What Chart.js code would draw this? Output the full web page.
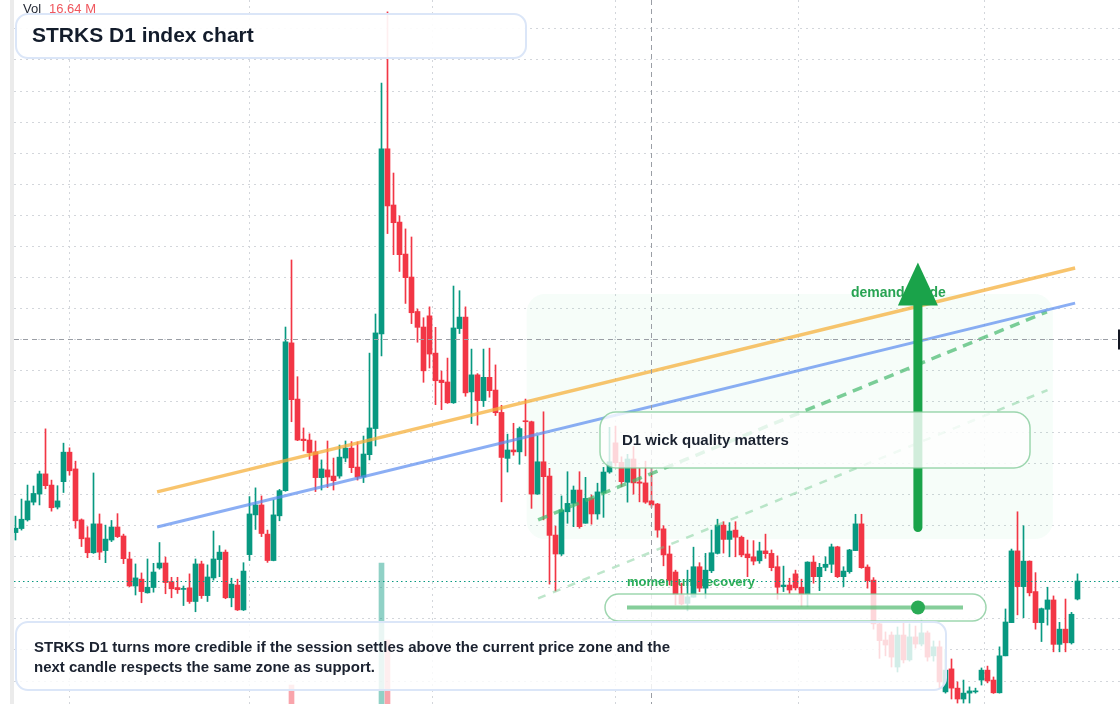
<!DOCTYPE html>
<html>
<head>
<meta charset="utf-8">
<title>STRKS D1 index chart</title>
<script src="https://cdn.jsdelivr.net/npm/chart.js@4.4.1/dist/chart.umd.min.js"></script>
<style>
  html, body { margin: 0; padding: 0; background: #ffffff; }
  .chart-container { position: relative; width: 1120px; height: 704px; }
</style>
</head>
<body>
<div class="chart-container"><canvas id="myChart"></canvas></div>
<script>
// daily candles, one per session (index = session number)
const opens = [
  2.478, 2.491, 2.519, 2.576, 2.602, 2.667, 2.631, 2.560, 2.642, 2.737,
  2.683, 2.519, 2.461, 2.413, 2.506, 2.420, 2.454, 2.496, 2.467, 2.393,
  2.306, 2.328, 2.284, 2.301, 2.364, 2.380, 2.320, 2.301, 2.295, 2.300,
  2.256, 2.377, 2.275, 2.332, 2.391, 2.415, 2.268, 2.309, 2.229, 2.407,
  2.535, 2.567, 2.473, 2.388, 2.532, 2.613, 3.089, 2.908, 2.779, 2.776,
  2.738, 2.655, 2.680, 2.660, 2.660, 2.718, 2.750, 2.689, 2.657, 2.729,
  2.813, 3.118, 3.714, 3.533, 3.478, 3.375, 3.301, 3.190, 3.140, 3.176,
  3.056, 2.969, 2.963, 2.896, 3.135, 3.172, 2.931, 2.986, 2.903, 2.978,
  2.937, 2.865, 2.717, 2.744, 2.738, 2.838, 2.835, 2.602, 2.706, 2.660,
  2.470, 2.409, 2.545, 2.572, 2.615, 2.508, 2.588, 2.538, 2.606, 2.673,
  2.767, 2.704, 2.640, 2.715, 2.641, 2.638, 2.580, 2.570, 2.490, 2.409,
  2.351, 2.277, 2.250, 2.270, 2.368, 2.299, 2.355, 2.411, 2.502, 2.456,
  2.486, 2.463, 2.409, 2.400, 2.387, 2.419, 2.411, 2.368, 2.304, 2.309,
  2.345, 2.302, 2.280, 2.383, 2.336, 2.366, 2.376, 2.432, 2.336, 2.352,
  2.420, 2.506, 2.367, 2.325, 2.184, 2.132, 2.148, 2.045, 2.148, 2.068,
  2.142, 2.119, 2.155, 2.081, 2.110, 1.965, 2.039, 1.977, 1.942, 1.961,
  1.965, 2.003, 2.035, 2.003, 1.962, 2.081, 2.188, 2.419, 2.304, 2.386,
  2.288, 2.188, 2.231, 2.261, 2.118, 2.167, 2.123, 2.264
];
const highs = [
  2.531, 2.586, 2.631, 2.628, 2.676, 2.812, 2.647, 2.629, 2.766, 2.751,
  2.708, 2.522, 2.497, 2.670, 2.538, 2.502, 2.517, 2.539, 2.473, 2.415,
  2.377, 2.348, 2.393, 2.379, 2.446, 2.399, 2.334, 2.334, 2.306, 2.345,
  2.393, 2.386, 2.374, 2.483, 2.436, 2.422, 2.331, 2.328, 2.381, 2.594,
  2.622, 2.596, 2.486, 2.583, 2.617, 3.140, 3.356, 2.980, 2.815, 2.796,
  2.773, 2.712, 2.773, 2.718, 2.760, 2.773, 2.771, 2.770, 2.789, 3.056,
  3.182, 3.926, 4.155, 3.636, 3.498, 3.456, 3.430, 3.198, 3.170, 3.205,
  3.139, 2.998, 3.040, 3.272, 3.257, 3.205, 3.069, 2.990, 3.069, 3.072,
  3.018, 2.888, 2.795, 2.830, 2.818, 2.908, 2.837, 2.790, 2.867, 2.685,
  2.499, 2.596, 2.674, 2.628, 2.674, 2.656, 2.599, 2.637, 2.688, 2.817,
  2.821, 2.722, 2.730, 2.755, 2.685, 2.708, 2.685, 2.572, 2.500, 2.435,
  2.357, 2.315, 2.357, 2.431, 2.381, 2.411, 2.486, 2.521, 2.513, 2.510,
  2.513, 2.467, 2.454, 2.452, 2.447, 2.473, 2.422, 2.403, 2.370, 2.331,
  2.357, 2.328, 2.384, 2.403, 2.379, 2.400, 2.441, 2.434, 2.368, 2.424,
  2.537, 2.537, 2.374, 2.333, 2.187, 2.158, 2.158, 2.174, 2.187, 2.184,
  2.177, 2.196, 2.161, 2.129, 2.129, 2.100, 2.071, 1.997, 2.003, 1.981,
  1.977, 2.042, 2.048, 2.013, 2.110, 2.232, 2.425, 2.545, 2.500, 2.387,
  2.349, 2.235, 2.302, 2.274, 2.189, 2.264, 2.221, 2.345
];
const lows = [
  2.454, 2.486, 2.515, 2.567, 2.567, 2.619, 2.547, 2.554, 2.607, 2.663,
  2.492, 2.433, 2.397, 2.411, 2.391, 2.381, 2.449, 2.462, 2.378, 2.304,
  2.277, 2.252, 2.283, 2.286, 2.360, 2.281, 2.268, 2.282, 2.243, 2.250,
  2.223, 2.266, 2.256, 2.325, 2.336, 2.265, 2.239, 2.227, 2.227, 2.388,
  2.488, 2.465, 2.382, 2.387, 2.516, 2.611, 2.835, 2.774, 2.741, 2.714,
  2.610, 2.615, 2.623, 2.615, 2.653, 2.706, 2.671, 2.647, 2.639, 2.712,
  2.757, 3.047, 3.441, 3.373, 3.319, 3.216, 3.151, 3.091, 2.962, 3.008,
  2.890, 2.874, 2.894, 2.894, 3.119, 2.917, 2.829, 2.824, 2.884, 2.914,
  2.855, 2.577, 2.673, 2.727, 2.698, 2.725, 2.556, 2.601, 2.519, 2.312,
  2.290, 2.404, 2.508, 2.497, 2.492, 2.508, 2.505, 2.521, 2.527, 2.669,
  2.692, 2.626, 2.576, 2.602, 2.577, 2.572, 2.559, 2.463, 2.371, 2.309,
  2.245, 2.245, 2.226, 2.270, 2.288, 2.266, 2.349, 2.409, 2.412, 2.400,
  2.400, 2.400, 2.336, 2.374, 2.379, 2.395, 2.355, 2.263, 2.288, 2.282,
  2.293, 2.239, 2.239, 2.315, 2.291, 2.355, 2.349, 2.333, 2.304, 2.347,
  2.420, 2.363, 2.299, 2.167, 2.073, 2.081, 2.045, 2.029, 2.058, 2.064,
  2.106, 2.113, 2.064, 2.064, 1.977, 1.961, 1.942, 1.929, 1.929, 1.929,
  1.961, 1.987, 1.994, 1.960, 1.961, 2.081, 2.188, 2.213, 2.204, 2.274,
  2.167, 2.127, 2.180, 2.094, 2.094, 2.094, 2.119, 2.261
];
const closes = [
  2.492, 2.521, 2.580, 2.604, 2.667, 2.629, 2.558, 2.580, 2.737, 2.677,
  2.516, 2.458, 2.413, 2.506, 2.415, 2.457, 2.496, 2.465, 2.394, 2.306,
  2.332, 2.288, 2.302, 2.351, 2.380, 2.317, 2.297, 2.294, 2.297, 2.256,
  2.377, 2.275, 2.335, 2.393, 2.415, 2.268, 2.312, 2.229, 2.354, 2.538,
  2.567, 2.475, 2.388, 2.535, 2.613, 3.092, 2.906, 2.776, 2.774, 2.735,
  2.655, 2.683, 2.657, 2.645, 2.721, 2.750, 2.687, 2.657, 2.731, 2.815,
  3.121, 3.714, 3.530, 3.476, 3.373, 3.299, 3.186, 3.139, 2.999, 3.053,
  2.967, 2.961, 2.896, 3.137, 3.172, 2.928, 2.986, 2.903, 2.978, 2.935,
  2.864, 2.720, 2.744, 2.738, 2.813, 2.835, 2.602, 2.706, 2.658, 2.469,
  2.409, 2.551, 2.572, 2.615, 2.497, 2.588, 2.538, 2.609, 2.673, 2.706,
  2.703, 2.642, 2.715, 2.638, 2.637, 2.576, 2.567, 2.486, 2.406, 2.325,
  2.278, 2.248, 2.271, 2.368, 2.299, 2.357, 2.413, 2.502, 2.456, 2.483,
  2.463, 2.406, 2.397, 2.386, 2.419, 2.410, 2.365, 2.302, 2.309, 2.293,
  2.300, 2.280, 2.383, 2.336, 2.366, 2.376, 2.432, 2.336, 2.354, 2.422,
  2.506, 2.365, 2.323, 2.184, 2.130, 2.116, 2.077, 2.148, 2.068, 2.142,
  2.119, 2.155, 2.077, 2.110, 1.997, 2.035, 1.977, 1.942, 1.961, 1.968,
  1.968, 2.035, 2.000, 1.962, 2.081, 2.190, 2.419, 2.304, 2.386, 2.284,
  2.188, 2.233, 2.261, 2.118, 2.167, 2.123, 2.215, 2.322
];
// volume in millions
const volumes = [
  22, 25, 28, 24, 30, 38, 27, 20, 33, 26,
  35, 24, 22, 36, 28, 21, 19, 18, 23, 29,
  24, 22, 26, 21, 25, 27, 19, 17, 18, 23,
  31, 24, 22, 29, 20, 30, 21, 26, 28, 41,
  27, 25, 24, 33, 29, 52, 75, 44, 26, 24,
  30, 21, 23, 19, 22, 20, 24, 21, 26, 48,
  53, 197, 120, 46, 38, 35, 37, 27, 33, 29,
  31, 24, 22, 39, 26, 34, 25, 27, 24, 22,
  23, 37, 21, 19, 22, 20, 35, 26, 33, 31,
  27, 30, 22, 19, 25, 21, 18, 20, 24, 23,
  25, 19, 22, 20, 17, 21, 16.64, 22, 26, 24,
  23, 18, 20, 28, 21, 23, 24, 25, 19, 18,
  17, 19, 20, 16, 18, 17, 19, 22, 16, 15,
  17, 18, 24, 20, 17, 15, 19, 21, 16, 20,
  26, 28, 19, 30, 27, 18, 22, 24, 21, 20,
  17, 19, 22, 16, 29, 24, 22, 20, 17, 16,
  14, 18, 17, 19, 27, 31, 45, 49, 38, 26,
  29, 22, 19, 27, 21, 24, 23, 28
];

// month gridlines (session index) and price gridlines
const monthTicks = [24, 54, 85, 115, 146, 177];
const priceTicks = [2.0, 2.1, 2.2, 2.3, 2.4, 2.5, 2.6, 2.7, 2.8, 2.9, 3.0,
                    3.1, 3.2, 3.3, 3.4, 3.5, 3.6, 3.7, 3.8, 3.9, 4.0, 4.1];

// drawn trend lines
const upperTrend = [{ x: 23.6, y: 2.609 }, { x: 176.6, y: 3.330 }];
const lowerTrend = [{ x: 23.6, y: 2.496 }, { x: 176.6, y: 3.217 }];
const channelTop = [{ x: 87.1, y: 2.519 }, { x: 171.9, y: 3.189 }];
const channelBottom = [{ x: 87.1, y: 2.266 }, { x: 172.0, y: 2.937 }];

// annotation anchors
const demandZone = { x0: 85.2, x1: 172.9, y0: 2.457, y1: 3.246 };
const demandArrow = { x: 150.4, from: 2.494, to: 3.348 };
const crossSession = 106;
const crossPrice = 3.101;
const lastClose = closes[closes.length - 1];

const UP = '#089981';
const DOWN = '#f23645';
const FONT = '"Liberation Sans", Arial, sans-serif';

const sessions = opens.map((_, i) => i);
const candleColors = sessions.map(i => (closes[i] >= opens[i] ? UP : DOWN));
const volumeColors = sessions.map(i => (closes[i] >= opens[i] ? 'rgba(8,153,129,0.45)' : 'rgba(242,54,69,0.45)'));

function roundedBox(ctx, x, y, w, h, r) {
  ctx.beginPath();
  ctx.moveTo(x + r, y);
  ctx.arcTo(x + w, y, x + w, y + h, r);
  ctx.arcTo(x + w, y + h, x, y + h, r);
  ctx.arcTo(x, y + h, x, y, r);
  ctx.arcTo(x, y, x + w, y, r);
  ctx.closePath();
}

function callout(ctx, x, y, w, h, r, fill, stroke, lw) {
  roundedBox(ctx, x, y, w, h, r);
  ctx.fillStyle = fill;
  ctx.fill();
  ctx.lineWidth = lw;
  ctx.strokeStyle = stroke;
  ctx.stroke();
}

const overlays = {
  id: 'overlays',
  beforeDatasetsDraw(chart) {
    const { ctx, scales: { x, y } } = chart;
    ctx.save();
    // side strip
    ctx.fillStyle = '#ebebeb';
    ctx.fillRect(10, 0, 4, chart.height);

    // demand zone
    const zx0 = x.getPixelForValue(demandZone.x0);
    const zx1 = x.getPixelForValue(demandZone.x1);
    const zy0 = y.getPixelForValue(demandZone.y1);
    const zy1 = y.getPixelForValue(demandZone.y0);
    roundedBox(ctx, zx0, zy0, zx1 - zx0, zy1 - zy0, 18);
    ctx.fillStyle = 'rgba(34,197,94,0.04)';
    ctx.fill();

    ctx.font = 'bold 13px ' + FONT;
    ctx.textBaseline = 'middle';
    ctx.fillStyle = '#2fae58';
    ctx.fillText('momentum recovery', 627, 582.5);
    ctx.restore();
  },
  afterDatasetsDraw(chart) {
    const { ctx, chartArea: a, scales: { x, y } } = chart;
    ctx.save();

    // crosshair
    const cx = Math.round(x.getPixelForValue(crossSession)) + 0.5;
    const cy = Math.round(y.getPixelForValue(crossPrice)) + 0.5;
    ctx.strokeStyle = '#9a9ea5';
    ctx.lineWidth = 1;
    ctx.setLineDash([5, 4]);
    ctx.beginPath();
    ctx.moveTo(cx, a.top); ctx.lineTo(cx, a.bottom);
    ctx.moveTo(a.left, cy); ctx.lineTo(a.right, cy);
    ctx.stroke();

    // last price line
    const ly = Math.round(y.getPixelForValue(lastClose)) + 0.5;
    ctx.strokeStyle = UP;
    ctx.setLineDash([1.5, 3]);
    ctx.beginPath();
    ctx.moveTo(a.left, ly); ctx.lineTo(a.right, ly);
    ctx.stroke();
    ctx.setLineDash([]);

    // demand guide arrow
    ctx.font = 'bold 14px ' + FONT;
    ctx.textBaseline = 'middle';
    ctx.fillStyle = '#27a352';
    ctx.fillText('demand guide', 851, 293);

    const ax = x.getPixelForValue(demandArrow.x);
    const aBase = y.getPixelForValue(demandArrow.from);
    const aTip = y.getPixelForValue(demandArrow.to);
    ctx.strokeStyle = '#1aa34a';
    ctx.fillStyle = '#1aa34a';
    ctx.lineWidth = 9;
    ctx.lineCap = 'round';
    ctx.beginPath();
    ctx.moveTo(ax, aBase); ctx.lineTo(ax, aTip + 40);
    ctx.stroke();
    ctx.beginPath();
    ctx.moveTo(ax, aTip);
    ctx.lineTo(ax + 20, aTip + 43);
    ctx.lineTo(ax - 20, aTip + 43);
    ctx.closePath();
    ctx.fill();
    ctx.lineCap = 'butt';

    // wick quality callout
    callout(ctx, 600, 412, 430, 56, 16, 'rgba(255,255,255,0.8)', 'rgba(126,200,148,0.75)', 1.5);
    ctx.font = 'bold 15px ' + FONT;
    ctx.fillStyle = '#1b2230';
    ctx.fillText('D1 wick quality matters', 622, 441);

    // momentum slider
    callout(ctx, 605, 594, 381, 27, 13.5, 'rgba(255,255,255,0.8)', 'rgba(126,200,148,0.75)', 1.5);
    ctx.strokeStyle = 'rgba(92,190,120,0.75)';
    ctx.lineWidth = 4;
    ctx.beginPath();
    ctx.moveTo(627, 607.5); ctx.lineTo(963, 607.5);
    ctx.stroke();
    ctx.fillStyle = '#2aab55';
    ctx.beginPath();
    ctx.arc(918, 607.5, 7, 0, Math.PI * 2);
    ctx.fill();

    // narrative box
    callout(ctx, 16, 622, 930, 68, 12, 'rgba(255,255,255,0.82)', '#dbe6f8', 2);
    ctx.font = 'bold 15px ' + FONT;
    ctx.fillStyle = '#1b2230';
    ctx.fillText('STRKS D1 turns more credible if the session settles above the current price zone and the', 34, 648);
    ctx.fillText('next candle respects the same zone as support.', 34, 668);

    // title box
    callout(ctx, 16, 14, 510, 44, 12, 'rgba(255,255,255,0.92)', '#dbe6f8', 2);
    ctx.font = 'bold 21px ' + FONT;
    ctx.fillStyle = '#131c2b';
    ctx.fillText('STRKS D1 index chart', 32, 36.5);

    // volume legend
    ctx.font = '13px ' + FONT;
    ctx.fillStyle = '#1f2430';
    ctx.fillText('Vol', 23, 9);
    ctx.fillStyle = '#f0575e';
    ctx.fillText(volumes[crossSession].toFixed(2) + ' M', 49, 9);

    // price label edge at crosshair
    ctx.fillStyle = '#131722';
    ctx.fillRect(1118, cy - 10, 2, 20);
    ctx.restore();
  }
};

const X_MIN = -0.25;
const X_MAX = X_MIN + 1106 / 6;
const Y_MAX = 2 + 681 / 310.5;
const Y_MIN = Y_MAX - 704 / 310.5;

new Chart(document.getElementById('myChart').getContext('2d'), {
  type: 'bar',
  data: {
    datasets: [
      {
        label: 'Volume',
        yAxisID: 'yv',
        data: sessions.map(i => ({ x: i, y: volumes[i] })),
        backgroundColor: volumeColors,
        barThickness: 5,
        grouped: false,
        order: 4,
      },
      {
        label: 'Wicks',
        data: sessions.map(i => ({ x: i, y: [lows[i], highs[i]] })),
        backgroundColor: candleColors,
        barThickness: 1,
        grouped: false,
        order: 3,
      },
      {
        label: 'Bodies',
        data: sessions.map(i => ({ x: i, y: [opens[i], closes[i]] })),
        backgroundColor: candleColors,
        barThickness: 5,
        minBarLength: 1,
        grouped: false,
        order: 2,
      },
      {
        type: 'line', label: 'channel bottom', data: channelBottom,
        borderColor: 'rgba(110,200,140,0.45)', borderWidth: 2.5, borderDash: [8, 8],
        pointRadius: 0, order: 1,
      },
      {
        type: 'line', label: 'channel top', data: channelTop,
        borderColor: 'rgba(70,185,110,0.7)', borderWidth: 3.5, borderDash: [10, 7],
        pointRadius: 0, order: 1,
      },
      {
        type: 'line', label: 'lower trend', data: lowerTrend,
        borderColor: 'rgba(90,140,240,0.7)', borderWidth: 3,
        pointRadius: 0, order: 0,
      },
      {
        type: 'line', label: 'upper trend', data: upperTrend,
        borderColor: 'rgba(245,176,60,0.75)', borderWidth: 3.5,
        pointRadius: 0, order: 0,
      },
    ],
  },
  options: {
    responsive: true,
    maintainAspectRatio: false,
    animation: false,
    events: [],
    layout: { padding: { left: 14, right: 0, top: 0, bottom: 0 } },
    plugins: { legend: { display: false }, tooltip: { enabled: false } },
    scales: {
      x: {
        type: 'linear',
        min: X_MIN,
        max: X_MAX,
        offset: false,
        afterBuildTicks: s => { s.ticks = monthTicks.map(v => ({ value: v })); },
        afterFit: s => { s.height = 0; },
        ticks: { display: false },
        border: { display: false, dash: [2, 4] },
        grid: { color: '#d3d6db', lineWidth: 1, drawTicks: false },
      },
      y: {
        type: 'linear',
        min: Y_MIN,
        max: Y_MAX,
        afterBuildTicks: s => { s.ticks = priceTicks.map(v => ({ value: v })); },
        afterFit: s => { s.width = 0; },
        ticks: { display: false },
        border: { display: false, dash: [2, 4] },
        grid: { color: '#d3d6db', lineWidth: 1, drawTicks: false },
      },
      yv: {
        type: 'linear',
        display: false,
        min: 56,
        max: 760,
      },
    },
  },
  plugins: [overlays],
});
</script>
</body>
</html>
